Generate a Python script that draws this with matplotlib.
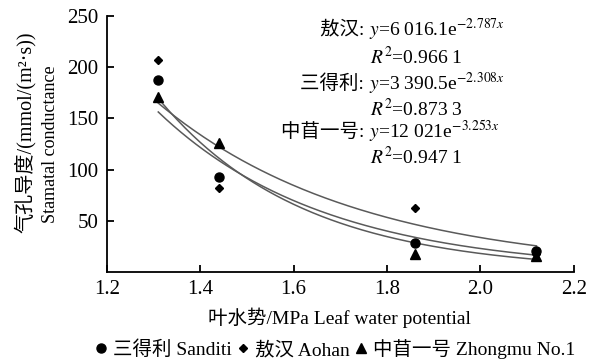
import matplotlib
matplotlib.use("Agg")
import matplotlib.pyplot as plt
import numpy as np

plt.rcParams['font.family'] = ['Liberation Serif', 'Noto Sans CJK SC']
plt.rcParams['mathtext.fontset'] = 'stix'

# leaf water potential (MPa) and stomatal conductance readings
x_vals = [1.31, 1.44, 1.86, 2.12]
sanditi = [187, 93, 28, 20]
aohan = [207, 82, 62, 17]
zhongmu = [171, 126, 17, 16]

# fitted exponential trends y = a*exp(b*x)
fit_a = [3390.5, 6016.1, 12021]
fit_b = [-2.308, -2.787, -3.253]

fig = plt.figure(figsize=(6.04, 3.63), dpi=100)
ax = fig.add_axes([0.177, 0.251, 0.773, 0.705])

xx = np.linspace(x_vals[0], x_vals[-1], 200)
for a, b in zip(fit_a, fit_b):
    ax.plot(xx, a*np.exp(b*xx), color='#5a5a5a', lw=1.1)

ax.plot(x_vals, sanditi, 'o', color='black', ms=6.5, label='三得利 Sanditi')
ax.plot(x_vals, aohan, 'D', color='black', ms=4.5, label='敖汉 Aohan')
ax.plot(x_vals, zhongmu, '^', color='black', ms=6.5, label='中苜一号 Zhongmu No.1')

ax.set_xlim(1.2, 2.2)
ax.set_ylim(0, 250)
ax.set_xticks([1.2, 1.4, 1.6, 1.8, 2.0, 2.2])
ax.set_xticklabels(['1.2', '1.4', '1.6', '1.8', '2.0', '2.2'])
ax.set_yticks([50, 100, 150, 200, 250])
ax.spines['top'].set_visible(False)
ax.spines['right'].set_visible(False)
for s in ['left', 'bottom']:
    ax.spines[s].set_linewidth(1.3)
ax.tick_params(direction='in', length=5, width=1.3, labelsize=15, pad=6)

fig.text(339/604, 1-318/363, '叶水势/MPa Leaf water potential', ha='center', va='center',
         fontsize=14)
fig.text(25/604, 1-132/363, '气孔导度/(mmol/(m²·s))', rotation=90, ha='center',
         va='center', fontsize=14.5)
fig.text(51/604, 1-144/363, 'Stamatal conductance', rotation=90, ha='center',
         va='center', fontsize=13)

# equation annotations
names = ['敖汉: ', '三得利: ', '中苜一号: ']
eqs = ['$y$=6 016.1e$^{-2.787x}$', '$y$=3 390.5e$^{-2.308x}$', '$y$=12 021e$^{-3.253x}$']
r2 = ['$R^2$=0.966 1', '$R^2$=0.873 3', '$R^2$=0.947 1']
name_y = [30, 84, 132]
r2_y = [57, 109, 157]
for n, e, r, ny, ry in zip(names, eqs, r2, name_y, r2_y):
    fig.text(369/604, 1-ny/363, n, ha='right', va='center', fontsize=14)
    fig.text(369/604, 1-ny/363, e, ha='left', va='center', fontsize=14)
    fig.text(370/604, 1-ry/363, r, ha='left', va='center', fontsize=14)

fig.legend(loc='center', bbox_to_anchor=(335/604, 1-349/363), ncol=3, frameon=False,
           fontsize=14, handlelength=0.6, handletextpad=0.3, columnspacing=0.3,
           borderaxespad=0, borderpad=0)

fig.savefig('out.png', dpi=100)
